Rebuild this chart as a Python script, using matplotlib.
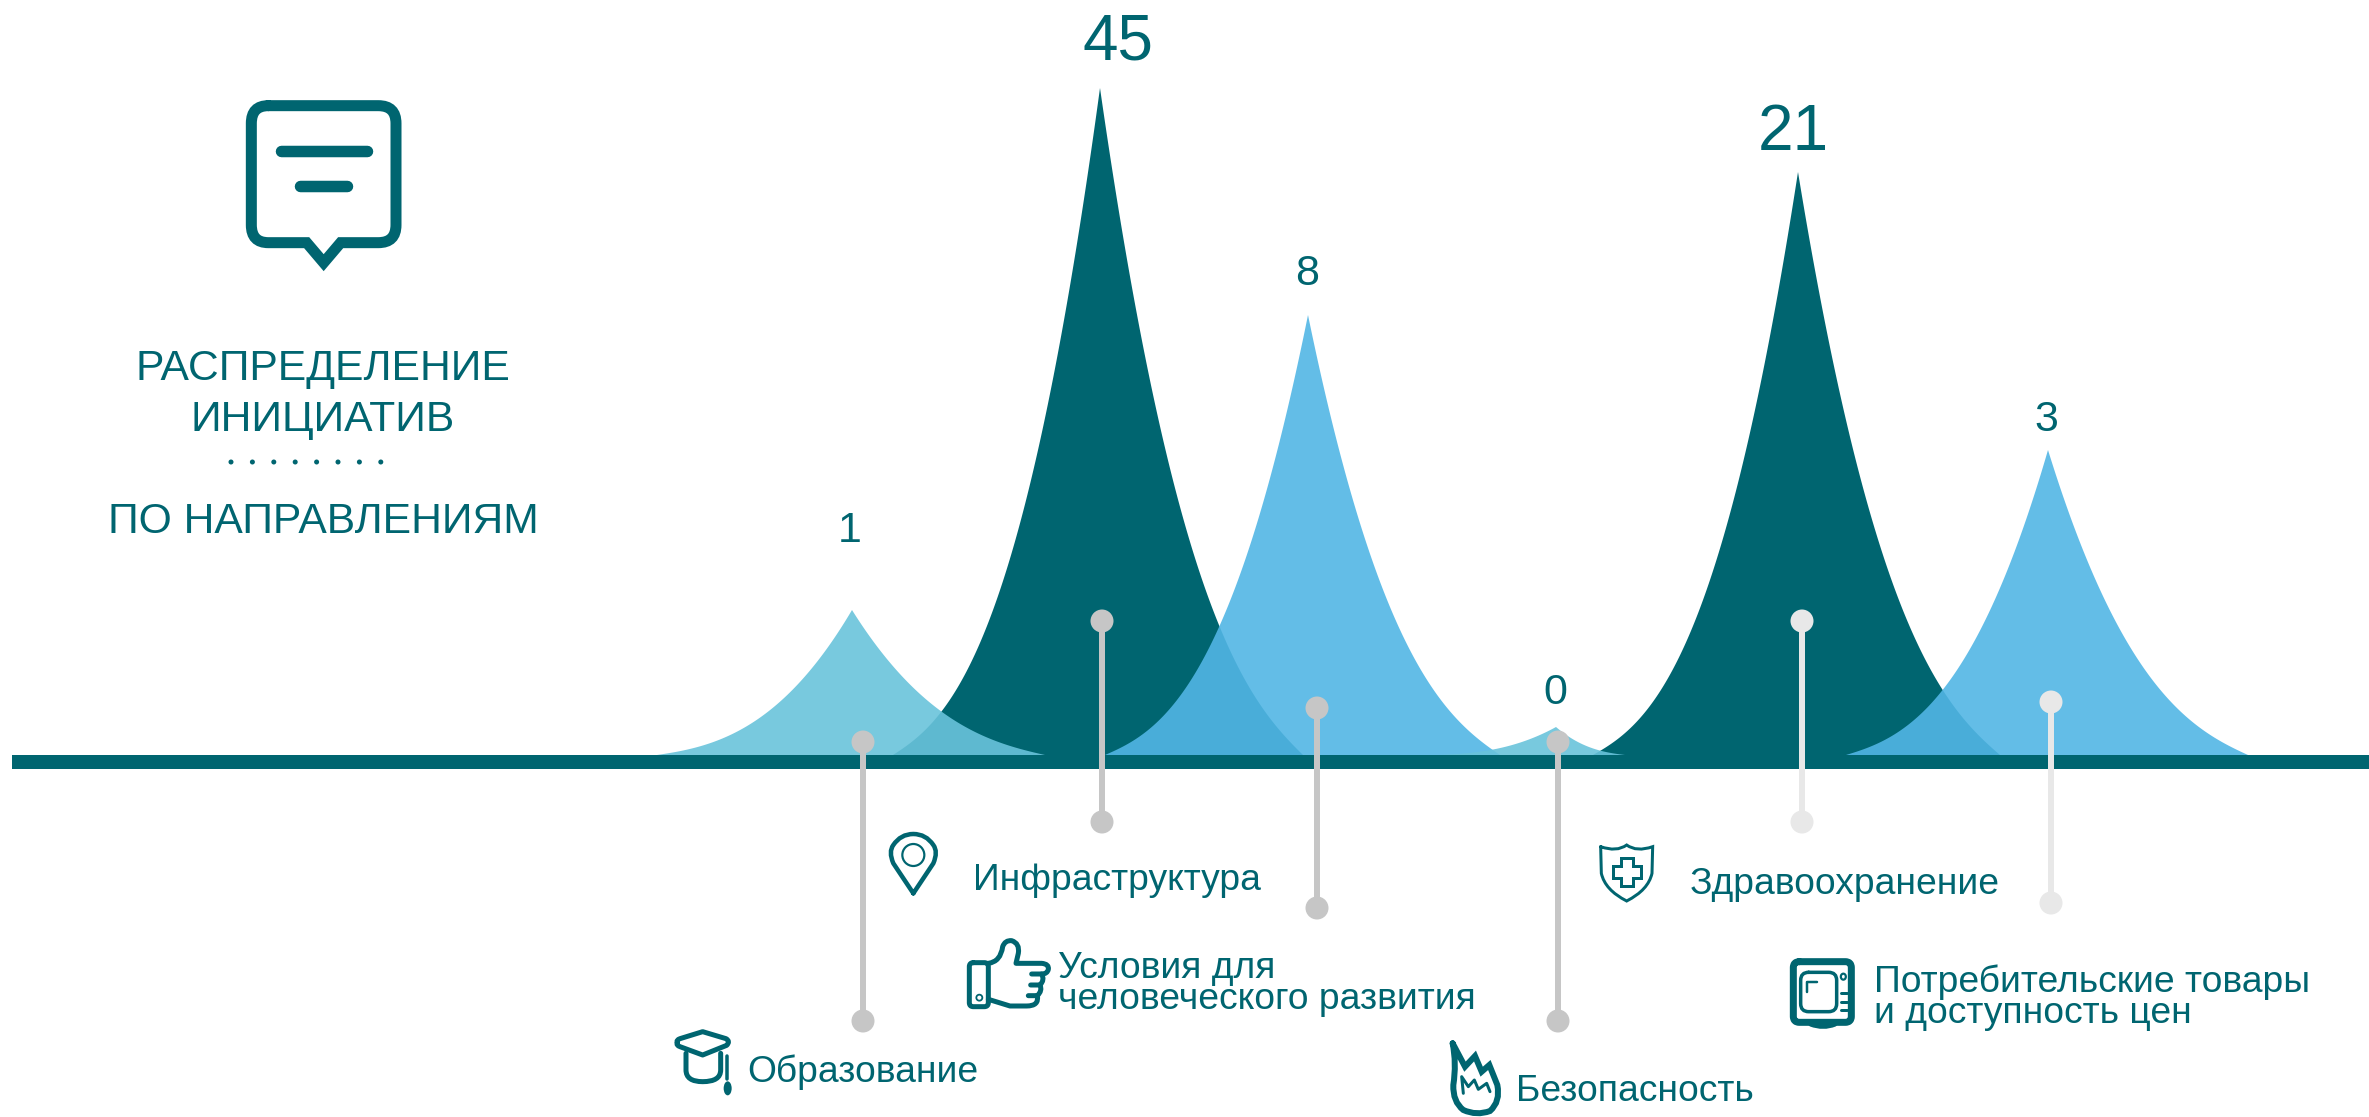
import numpy as np
import matplotlib
matplotlib.use("Agg")
import matplotlib.pyplot as plt
from matplotlib.path import Path
from matplotlib.patches import PathPatch, Ellipse, Rectangle

plt.rcParams['font.family'] = ['Liberation Sans', 'DejaVu Sans']

# ---- data -----------------------------------------------------------
categories = ["Образование", "Инфраструктура", "Условия для\nчеловеческого развития",
              "Безопасность", "Здравоохранение", "Потребительские товары\nи доступность цен"]
values = [1, 45, 8, 0, 21, 3]
peak_heights = [145, 667, 440, 28, 583, 305]     # drawn height (non-linear in the source)
peak_x = [852, 1100, 1308, 1556, 1798, 2048]
peak_left = [657, 893, 1105, 1440, 1593, 1846]
peak_right = [1045, 1303, 1500, 1625, 2000, 2248]
peak_colors = ["#69C3DB", "#006570", "#52B6E5", "#69C3DB", "#006570", "#52B6E5"]
pin_x = [863, 1102, 1317, 1558, 1802, 2051]
pin_top = [742, 621, 708, 742, 621, 702]
pin_bottom = [1021, 822, 908, 1021, 822, 903]
pin_colors = ["#C6C6C6", "#C6C6C6", "#C6C6C6", "#C6C6C6", "#E8E8E8", "#E8E8E8"]
value_x = [850, 1118, 1307, 1555, 1793, 2046]
value_base = [542, 59, 285, 704, 150, 431]
value_size = [31, 46, 31, 31, 46, 31]
label_x = [747, 973, 1058, 1516, 1690, 1874]
label_base = [1082, 890, 978, 1101, 894, 992]
title_lines = ["РАСПРЕДЕЛЕНИЕ", "ИНИЦИАТИВ", "ПО НАПРАВЛЕНИЯМ"]
title_base = [380, 431, 533]

DARK = "#006570"
BASE = 755
W, H = 2369, 1117

fig = plt.figure(figsize=(W / 100, H / 100), dpi=100, facecolor="white")
ax = fig.add_axes([0, 0, 1, 1])
ax.set_xlim(0, W)
ax.set_ylim(H, 0)
ax.axis("off")
PX = 0.72  # points per pixel


def flank_left(t):
    return 0.8 * (1 - t) ** 2.6 + 0.2 * (1 - t)


def flank_right(t):
    return 0.7 * (1 - t) ** 2.6 + 0.3 * (1 - t)


def peak(x0, h, xl, xr, color, alpha, z):
    tl = np.linspace(1, 0, 120)
    tr = np.linspace(0, 1, 120)
    xs = np.r_[x0 - (x0 - xl) * tl, x0 + (xr - x0) * tr]
    ys = np.r_[BASE - h * flank_left(tl), BASE - h * flank_right(tr)]
    ax.fill(xs, ys, color=color, alpha=alpha, lw=0, zorder=z)


# dark peaks lie beneath the translucent light ones
order = [1, 4, 0, 2, 3, 5]
for z, i in enumerate(order):
    dark = peak_colors[i] == DARK
    peak(peak_x[i], peak_heights[i], peak_left[i], peak_right[i],
         peak_colors[i], 1.0 if dark else 0.9, 2 + z)

ax.add_patch(Rectangle((12, BASE), W - 12, 14, color=DARK, lw=0, zorder=10))

for x, t, b, c in zip(pin_x, pin_top, pin_bottom, pin_colors):
    ax.plot([x, x], [t, b], color=c, lw=6 * PX, zorder=11, solid_capstyle="butt")
    for y in (t, b):
        ax.add_patch(Ellipse((x, y), 23, 23, color=c, lw=0, zorder=12))

for v, x, y, s in zip(values, value_x, value_base, value_size):
    ax.text(x, y, str(v), color=DARK, fontsize=s, ha="center", va="baseline", zorder=13)

for lab, x, y in zip(categories, label_x, label_base):
    for k, line in enumerate(lab.split("\n")):
        ax.text(x, y + 31 * k, line, color=DARK, fontsize=26.8, ha="left", va="baseline", zorder=13)

for line, y in zip(title_lines, title_base):
    ax.text(323, y, line, color=DARK, fontsize=30.7, ha="center", va="baseline")
for k in range(8):
    ax.add_patch(Ellipse((231 + k * 21.4, 462), 5, 5, color=DARK, lw=0))


def stroke(points, ox, oy, s=1 / 3, lw=4, closed=False, fill="none", join="round"):
    """points: list of (x, y) vertices, or ('c', x1, y1, x, y) quadratic segments."""
    verts, codes = [], []
    for n, p in enumerate(points):
        if p[0] == 'c':
            verts += [(ox + p[1] * s, oy + p[2] * s), (ox + p[3] * s, oy + p[4] * s)]
            codes += [Path.CURVE3, Path.CURVE3]
        else:
            verts.append((ox + p[0] * s, oy + p[1] * s))
            codes.append(Path.MOVETO if n == 0 else Path.LINETO)
    if closed:
        verts.append(verts[0])
        codes.append(Path.CLOSEPOLY)
    ax.add_patch(PathPatch(Path(verts, codes), fc=fill, ec=DARK, lw=lw * PX,
                           joinstyle=join, capstyle="round", zorder=14))


def rbox(x0, y0, x1, y1, r):
    return [(x0 + r, y0), (x1 - r, y0), ('c', x1, y0, x1, y0 + r), (x1, y1 - r), ('c', x1, y1, x1 - r, y1),
            (x0 + r, y1), ('c', x0, y1, x0, y1 - r), (x0, y0 + r), ('c', x0, y0, x0 + r, y0)]


# speech bubble
stroke([(565, 107), (895, 107), ('c', 948, 107, 948, 160), (948, 465), ('c', 948, 518, 895, 518),
        (782, 518), (731, 578), (680, 518), (565, 518), ('c', 514, 518, 514, 465), (514, 160),
        ('c', 514, 107, 565, 107)], 80, 70, lw=11, join="miter")
stroke([(602, 244), (860, 244)], 80, 70, lw=11.5)
stroke([(661, 347), (802, 347)], 80, 70, lw=11.5)

# graduation cap
stroke([(52, 68), ('c', 48, 60, 60, 56), (128, 35), (198, 56), ('c', 212, 64, 200, 76), (128, 105),
        (60, 80), ('c', 48, 76, 52, 68)], 660, 1020, lw=5)
stroke([(78, 100), (78, 150), ('c', 78, 185, 128, 185), ('c', 182, 185, 182, 150), (182, 100)], 660, 1020, lw=5)
stroke([(200, 108), (200, 178)], 660, 1020, lw=3.5)
ax.add_patch(Ellipse((660 + 203 / 3, 1020 + 205 / 3), 8, 14, color=DARK, lw=0, zorder=14))

# map pin
stroke([(100, 220), (40, 130), ('c', 25, 95, 40, 75), ('c', 62, 42, 100, 42), ('c', 138, 42, 160, 75),
        ('c', 175, 95, 160, 130), (100, 220)], 880, 820, lw=4.5)
ax.add_patch(Ellipse((880 + 100 / 3, 820 + 105 / 3), 22, 22, fc="none", ec=DARK, lw=2.2 * PX, zorder=14))

# thumb up
stroke(rbox(28, 98, 85, 230, 12), 960, 930, lw=5)
stroke([(85, 100), ('c', 122, 95, 128, 50), ('c', 135, 30, 155, 32), ('c', 180, 40, 175, 70), (168, 100),
        (245, 100), ('c', 268, 102, 265, 118), ('c', 262, 132, 245, 132), (215, 132)], 960, 930, lw=5)
stroke([(245, 132), ('c', 255, 150, 240, 165), (212, 165)], 960, 930, lw=5)
stroke([(240, 165), ('c', 248, 182, 232, 197), (205, 197)], 960, 930, lw=5)
stroke([(232, 197), ('c', 238, 228, 200, 228), (150, 228), (85, 208)], 960, 930, lw=5)
ax.add_patch(Ellipse((960 + 58 / 3, 930 + 203 / 3), 6, 6, fc="none", ec=DARK, lw=1.8 * PX, zorder=14))

# flame
stroke([(38, 40), (75, 110), (105, 78), (125, 125), (148, 105), (172, 165), ('c', 182, 215, 150, 243),
        ('c', 110, 258, 70, 240), ('c', 38, 215, 40, 165), ('c', 50, 100, 38, 40)], 1440, 1030, lw=6, join="miter")
stroke([(70, 190), (65, 140), (85, 170), (103, 150), (115, 178), (140, 160), (150, 185)], 1440, 1030, lw=3)

# shield
stroke([(32, 35), ('c', 80, 52, 110, 30), ('c', 140, 52, 188, 35), (186, 115), ('c', 175, 165, 110, 198),
        ('c', 45, 165, 34, 115), (32, 35)], 1590, 835, lw=3, join="miter")
cx, cy, a, b = 110, 110, 18, 42
stroke([(cx - a, cy - b), (cx + a, cy - b), (cx + a, cy - a), (cx + b, cy - a), (cx + b, cy + a), (cx + a, cy + a),
        (cx + a, cy + b), (cx - a, cy + b), (cx - a, cy + a), (cx - b, cy + a), (cx - b, cy - a), (cx - a, cy - a)],
       1590, 835, lw=3, closed=True, join="miter")

# television
stroke(rbox(40, 50, 214, 232, 18), 1780, 945, lw=7)
stroke(rbox(62, 82, 170, 200, 24), 1780, 945, lw=3.5)
stroke([(80, 140), (80, 110), (112, 110)], 1780, 945, lw=2.5)
ax.add_patch(Ellipse((1780 + 190 / 3, 945 + 95 / 3), 5, 6, fc="none", ec=DARK, lw=2.2 * PX, zorder=14))
for yy in (145, 170, 195):
    stroke([(184, yy), (202, yy)], 1780, 945, lw=3)
stroke([(92, 238), ('c', 130, 252, 165, 238)], 1780, 945, lw=4.5)

fig.savefig("out.png", dpi=100, facecolor="white")
